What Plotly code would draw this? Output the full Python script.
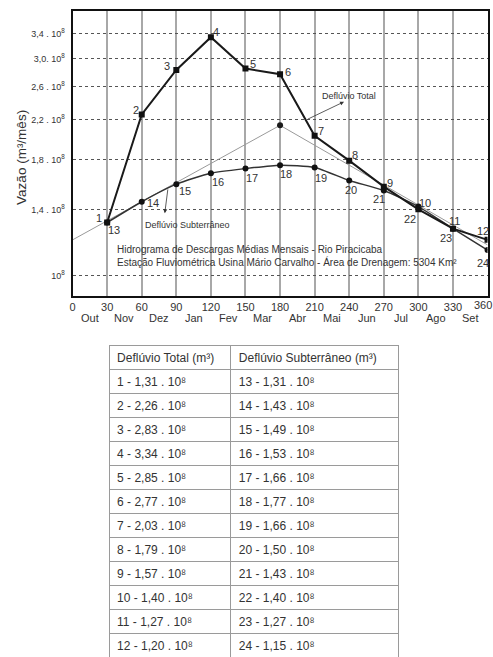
import numpy as np
import plotly.graph_objects as go

# ---------------- data ----------------
dias = [30, 60, 90, 120, 150, 180, 210, 240, 270, 300, 330, 360]
meses = ["Out", "Nov", "Dez", "Jan", "Fev", "Mar", "Abr", "Mai", "Jun", "Jul", "Ago", "Set"]
x_ticks = [0, 30, 60, 90, 120, 150, 180, 210, 240, 270, 300, 330, 360]

# Deflúvio total (10^8 m³) – points 1..12
total = [1.31, 2.26, 2.83, 3.34, 2.85, 2.77, 2.03, 1.79, 1.57, 1.40, 1.27, 1.20]
# Deflúvio subterrâneo as listed in the table – points 13..24
subterraneo_tabela = [1.31, 1.43, 1.49, 1.53, 1.66, 1.77, 1.66, 1.50, 1.43, 1.40, 1.27, 1.15]
# Deflúvio subterrâneo as drawn in the graph
subterraneo_grafico = [1.31, 1.455, 1.59, 1.68, 1.72, 1.75, 1.73, 1.62, 1.54, 1.42, 1.27, 1.14]
# straight separation line (total vs. base flow)
separacao_x = [0, 180, 360]
separacao_y = [1.20, 2.14, 1.17]

y_tickvals = [1.0, 1.4, 1.8, 2.2, 2.6, 3.0, 3.4]
y_ticktext = ["10<sup>8</sup>", "1,4 . 10<sup>8</sup>", "1,8 . 10<sup>8</sup>", "2,2 . 10<sup>8</sup>",
              "2,6 . 10<sup>8</sup>", "3,0. 10<sup>8</sup>", "3,4 . 10<sup>8</sup>"]

ids_total = list(range(1, 13))
ids_sub = list(range(13, 25))

# label offsets (pixels, dx right / dy down)
off_total = [(-8, -5), (-6, -5), (-9, -4), (5, -5), (8, -5), (8, -2),
             (6, -5), (6, -6), (6, -4), (7, -6), (2, -8), (-5, -9)]
off_sub = [(7, 7), (11, 1), (9, 7), (7, 9), (7, 9), (6, 9),
           (6, 11), (2, 10), (-5, 9), (-8, 12), (-7, 9), (-5, 13)]

FONT = "Liberation Sans, Arial, sans-serif"
TXT = "#333333"

W, H = 493, 657


def px(x):
    return x / W


def py(y):
    return 1 - y / H


fig = go.Figure()

fig.add_trace(go.Scatter(x=separacao_x, y=separacao_y, mode="lines",
                         line=dict(color="#9a9a9a", width=1), hoverinfo="skip"))
fig.add_trace(go.Scatter(x=[separacao_x[1]], y=[separacao_y[1]], mode="markers",
                         marker=dict(color="#1a1a1a", size=6), hoverinfo="skip"))
fig.add_trace(go.Scatter(x=dias, y=subterraneo_grafico, mode="lines+markers",
                         line=dict(color="#333333", width=1.5, shape="spline", smoothing=0.6),
                         marker=dict(color="#111111", size=6)))
fig.add_trace(go.Scatter(x=dias, y=total, mode="lines+markers",
                         line=dict(color="#1a1a1a", width=2),
                         marker=dict(color="#111111", size=6, symbol="square")))

annotations = []
for xi, yi, n, (dx, dy) in zip(dias, total, ids_total, off_total):
    annotations.append(dict(x=xi, y=np.log10(yi), text=str(n), showarrow=False,
                            xshift=dx, yshift=-dy, font=dict(size=11, color=TXT, family=FONT)))
for xi, yi, n, (dx, dy) in zip(dias, subterraneo_grafico, ids_sub, off_sub):
    annotations.append(dict(x=xi, y=np.log10(yi), text=str(n), showarrow=False,
                            xshift=dx, yshift=-dy, font=dict(size=11, color=TXT, family=FONT)))

# last x tick label, nudged to stay inside the page
annotations.append(dict(x=x_ticks[-1], xref="x", y=py(305), yref="paper", text=str(x_ticks[-1]),
                        showarrow=False, xanchor="center", yanchor="middle", xshift=-5,
                        font=dict(size=11, color=TXT, family=FONT)))

# month labels between ticks
for i, m in enumerate(meses):
    annotations.append(dict(x=(x_ticks[i] + x_ticks[i + 1]) / 2, xref="x", y=py(318), yref="paper",
                            text=m, showarrow=False, xanchor="center", yanchor="middle",
                            font=dict(size=11, color=TXT, family=FONT)))

# y-axis title
annotations.append(dict(x=px(18), xref="paper", y=py(157), yref="paper",
                        xanchor="center", yanchor="middle",
                        text="Vazão (m³/mês)", textangle=-90, showarrow=False,
                        font=dict(size=13.5, color=TXT, family=FONT)))

# Deflúvio Total label + arrow
annotations.append(dict(x=240, y=np.log10(2.48), text="Deflúvio Total", showarrow=False,
                        font=dict(size=9, color=TXT, family=FONT)))
annotations.append(dict(x=235.5, y=np.log10(2.41), ax=202.8, ay=np.log10(2.20),
                        axref="x", ayref="y", text="", showarrow=True,
                        arrowhead=2, arrowsize=1, arrowwidth=0.8, arrowcolor="#333"))
# Deflúvio Subterrâneo label + arrow
annotations.append(dict(x=100, y=np.log10(1.294), text="Deflúvio Subterrâneo", showarrow=False,
                        font=dict(size=9, color=TXT, family=FONT)))
annotations.append(dict(x=80, y=np.log10(1.373), ax=82.8, ay=np.log10(1.56),
                        axref="x", ayref="y", text="", showarrow=True,
                        arrowhead=2, arrowsize=1, arrowwidth=0.8, arrowcolor="#333"))
# chart caption
annotations.append(dict(x=37, y=np.log10(1.104), xanchor="left", yanchor="middle", align="left",
                        text="Hidrograma de Descargas Médias Mensais - Rio Piracicaba<br>"
                             "Estação Fluviométrica Usina Mário Carvalho - Área de Drenagem: 5304 Km²",
                        showarrow=False, font=dict(size=10, color=TXT, family=FONT)))

# ---------------- table ----------------
col1 = [f"{n} - {v:.2f}".replace(".", ",") + " . 10⁸" for n, v in zip(ids_total, total)]
col2 = [f"{n} - {v:.2f}".replace(".", ",") + " . 10⁸" for n, v in zip(ids_sub, subterraneo_tabela)]

fig.add_trace(go.Table(
    domain=dict(x=[px(106.7), px(397.7)], y=[0, py(345)]),
    columnwidth=[122.6, 168.4],
    header=dict(values=["Deflúvio Total (m³)", "Deflúvio Subterrâneo (m³)"],
                align="left", height=24, fill_color="white",
                line=dict(color="#9a9a9a", width=1),
                font=dict(size=12, color=TXT, family=FONT)),
    cells=dict(values=[col1, col2], align="left", height=24, fill_color="white",
               line=dict(color="#9a9a9a", width=1),
               font=dict(size=12, color=TXT, family=FONT)),
))

fig.update_layout(
    width=W, height=H,
    margin=dict(l=0, r=0, t=0, b=0),
    paper_bgcolor="white", plot_bgcolor="white",
    showlegend=False,
    annotations=annotations,
    xaxis=dict(domain=[px(70), px(487.5)], range=[0, 360], tickvals=x_ticks[:-1],
               showgrid=True, gridcolor="#a8a8a8", gridwidth=1.5, zeroline=False,
               showline=True, linecolor="#111", linewidth=2, mirror=True, ticks="",
               tickfont=dict(size=11, color=TXT, family=FONT)),
    yaxis=dict(type="log", domain=[py(296), py(11)], range=[-0.0439, 0.5811],
               tickvals=y_tickvals, ticktext=y_ticktext,
               showgrid=True, gridcolor="#555", gridwidth=1, griddash="dot", zeroline=False,
               showline=True, linecolor="#111", linewidth=2, mirror=True, ticks="",
               ticklabelstandoff=4,
               tickfont=dict(size=9, color=TXT, family=FONT)),
)

fig.write_html("out.html", config={"displayModeBar": False},
               post_script="document.body.style.margin='0px';document.body.style.overflow='hidden';")
